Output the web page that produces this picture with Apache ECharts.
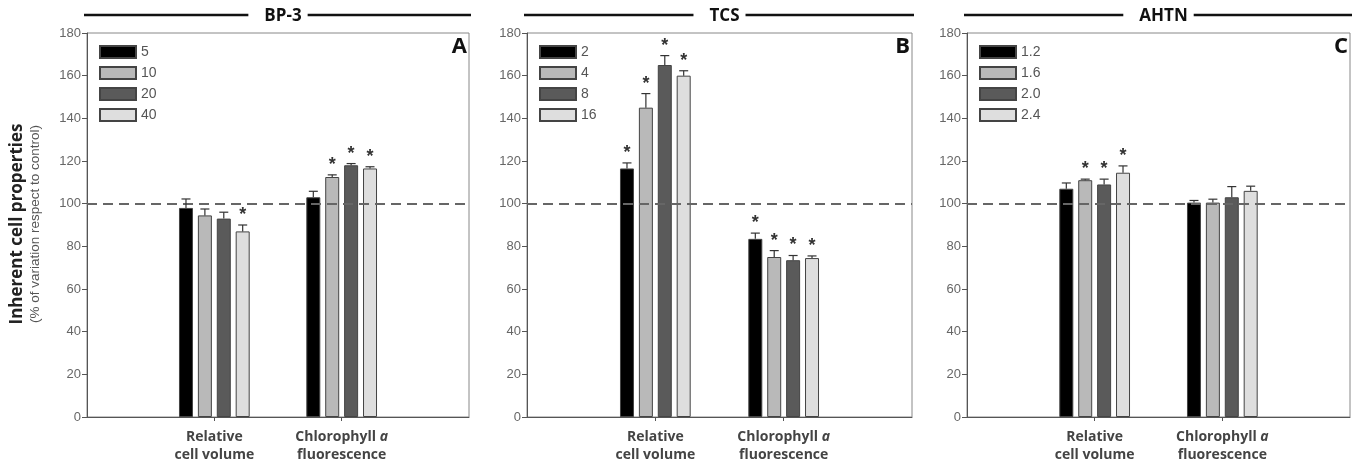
<!DOCTYPE html>
<html>
<head>
<meta charset="utf-8">
<script src="https://cdn.jsdelivr.net/npm/echarts@6/dist/echarts.min.js"></script>
<style>
  html, body { margin: 0; padding: 0; background: #fff; }
  #chart { width: 1356px; height: 468px; }
</style>
</head>
<body>
<div id="chart"></div>
<script>
// categories (padded with empty slots so the two groups sit at 1/3 and 2/3)
const categories = ['', 'Relative\ncell volume', 'Chlorophyll {i|a}\nfluorescence', ''];
const yTicks = [0, 20, 40, 60, 80, 100, 120, 140, 160, 180];

// BP-3
const bp3Doses = ['5', '10', '20', '40'];
const bp3Means = [[98, 103], [94.5, 112.5], [93, 118], [87, 116.5]];
const bp3Errors = [[4.2, 2.8], [3, 1], [3, 0.8], [3, 0.8]];
const bp3Signif = [[0, 0], [0, 1], [0, 1], [1, 1]];

// TCS
const tcsDoses = ['2', '4', '8', '16'];
const tcsMeans = [[116.5, 83.5], [145, 75], [165, 73.5], [160, 74.5]];
const tcsErrors = [[2.6, 2.7], [6.6, 3], [4.4, 2.2], [2.3, 1]];
const tcsSignif = [[1, 1], [1, 1], [1, 1], [1, 1]];

// AHTN
const ahtnDoses = ['1.2', '1.6', '2.0', '2.4'];
const ahtnMeans = [[107, 100.5], [111, 100.5], [109, 103], [114.5, 106]];
const ahtnErrors = [[2.7, 1], [0.5, 1.6], [2.5, 5], [3.2, 2.2]];
const ahtnSignif = [[0, 0], [1, 0], [1, 0], [1, 0]];

const panels = [
  { title: 'BP-3', letter: 'A', doses: bp3Doses, means: bp3Means, errors: bp3Errors, signif: bp3Signif, left: 87, width: 382 },
  { title: 'TCS', letter: 'B', doses: tcsDoses, means: tcsMeans, errors: tcsErrors, signif: tcsSignif, left: 527, width: 385 },
  { title: 'AHTN', letter: 'C', doses: ahtnDoses, means: ahtnMeans, errors: ahtnErrors, signif: ahtnSignif, left: 967, width: 383 }
];

const barColors = ['#000000', '#b9b9b9', '#5a5a5a', '#dedede'];
const barWidth = 14;
const barPitch = 18.9;
const numFont = 'Liberation Sans';
const txtFont = 'Open Sans';
const gridTop = 33, gridBottom = 51;
const titleFont = 'bold 17px "Open Sans"';

const measureCtx = document.createElement('canvas').getContext('2d');
function textWidth(t, font) { measureCtx.font = font; return measureCtx.measureText(t).width; }

const chart = echarts.init(document.getElementById('chart'));

const grids = [], xAxes = [], yAxes = [], legends = [], titles = [], series = [], graphics = [];

function errorRenderer(offset) {
  return function (params, api) {
    const idx = api.value(0), v = api.value(1), e = api.value(2), s = api.value(3);
    const p = api.coord([idx, v]);
    const t = api.coord([idx, v + e]);
    const cx = p[0] + offset;
    const children = [
      { type: 'line', shape: { x1: cx, y1: p[1], x2: cx, y2: t[1] }, style: { stroke: '#333', lineWidth: 1.2 } },
      { type: 'line', shape: { x1: cx - 4.5, y1: t[1], x2: cx + 4.5, y2: t[1] }, style: { stroke: '#333', lineWidth: 1.2 } }
    ];
    if (s) {
      children.push({
        type: 'text',
        style: { text: '*', x: cx, y: t[1] - 1, align: 'center', verticalAlign: 'bottom', font: 'bold 18px "Liberation Sans"', fill: '#333' }
      });
    }
    return { type: 'group', children: children };
  };
}

panels.forEach((pn, gi) => {
  grids.push({
    left: pn.left, width: pn.width, top: gridTop, bottom: gridBottom,
    show: true, borderColor: '#888', borderWidth: 1, backgroundColor: 'transparent'
  });
  xAxes.push({
    type: 'category', gridIndex: gi, data: categories, boundaryGap: false,
    axisLine: { lineStyle: { color: '#555', width: 1 } },
    axisTick: { interval: (i) => i === 1 || i === 2, length: 4, lineStyle: { color: '#555' } },
    axisLabel: {
      interval: (i) => i === 1 || i === 2, margin: 11, color: '#444',
      fontFamily: txtFont, fontWeight: 'bold', fontSize: 14, lineHeight: 18,
      rich: { i: { fontStyle: 'italic', fontFamily: txtFont, fontWeight: 'bold', fontSize: 14, color: '#444' } }
    },
    splitLine: { show: false }
  });
  yAxes.push({
    type: 'value', gridIndex: gi, min: yTicks[0], max: yTicks[yTicks.length - 1], interval: 20,
    axisLine: { show: true, lineStyle: { color: '#555', width: 1 } },
    axisTick: { show: true, length: 5, lineStyle: { color: '#555' } },
    axisLabel: { color: '#666', fontFamily: numFont, fontSize: 13, margin: 6 },
    splitLine: { show: false }
  });
  legends.push({
    data: pn.doses, orient: 'vertical', left: pn.left + 7, top: 40,
    itemWidth: 36, itemHeight: 12, itemGap: 7, icon: 'rect',
    textStyle: { color: '#555', fontFamily: numFont, fontSize: 14 },
    selectedMode: false
  });
  titles.push({
    text: pn.title, left: pn.left + pn.width / 2, top: 3, textAlign: 'center',
    textStyle: { fontFamily: txtFont, fontWeight: 'bold', fontSize: 17, color: '#111' }
  });
  titles.push({
    text: pn.letter, left: pn.left + pn.width - 7, top: 31, textAlign: 'right',
    textStyle: { fontFamily: txtFont, fontWeight: 'bold', fontSize: 22, color: '#111' }
  });
  // title rule with a gap for the title text
  const cx = pn.left + pn.width / 2;
  const gap = textWidth(pn.title, titleFont) / 2 + 11;
  graphics.push({ type: 'line', shape: { x1: pn.left - 3, y1: 15, x2: cx - gap, y2: 15 }, style: { stroke: '#111', lineWidth: 2.5 } });
  graphics.push({ type: 'line', shape: { x1: cx + gap, y1: 15, x2: pn.left + pn.width + 2, y2: 15 }, style: { stroke: '#111', lineWidth: 2.5 } });

  pn.doses.forEach((d, si) => {
    const vals = ['-', pn.means[si][0], pn.means[si][1], '-'];
    const s = {
      type: 'bar', name: d, xAxisIndex: gi, yAxisIndex: gi, data: vals,
      barWidth: barWidth, barGap: ((barPitch - barWidth) / barWidth * 100).toFixed(0) + '%',
      itemStyle: { color: barColors[si], borderColor: '#444', borderWidth: 1 },
      emphasis: { disabled: true }
    };
    if (si === 0) {
      s.markLine = {
        silent: true, symbol: 'none', label: { show: false },
        lineStyle: { color: '#666', type: [10, 6], width: 1.8 },
        data: [{ yAxis: 100 }]
      };
    }
    series.push(s);
  });
  pn.doses.forEach((d, si) => {
    const offset = (si - 1.5) * barPitch;
    series.push({
      type: 'custom', xAxisIndex: gi, yAxisIndex: gi, z: 5,
      renderItem: errorRenderer(offset),
      data: [1, 2].map((ci) => [ci, pn.means[si][ci - 1], pn.errors[si][ci - 1], pn.signif[si][ci - 1]])
    });
  });
});

// y axis title
graphics.push({
  type: 'text', x: 17, y: 224, rotation: Math.PI / 2,
  style: { text: 'Inherent cell properties', align: 'center', verticalAlign: 'middle', font: 'bold 17px "Open Sans"', fill: '#222' }
});
graphics.push({
  type: 'text', x: 35, y: 224, rotation: Math.PI / 2,
  style: { text: '(% of variation respect to control)', align: 'center', verticalAlign: 'middle', font: '13.5px "Liberation Sans"', fill: '#555' }
});

chart.setOption({
  backgroundColor: '#fff',
  animation: false,
  title: titles,
  grid: grids,
  xAxis: xAxes,
  yAxis: yAxes,
  legend: legends,
  series: series,
  graphic: graphics
});
</script>
</body>
</html>
